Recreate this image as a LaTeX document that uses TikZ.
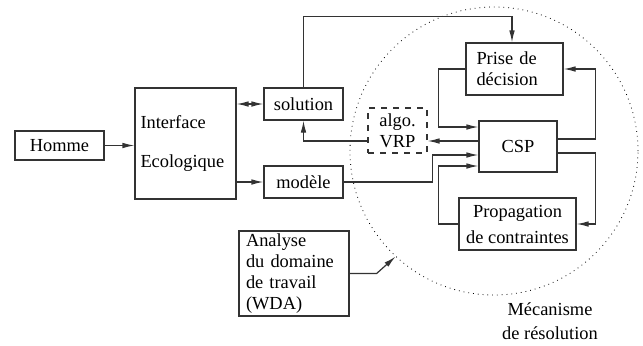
\documentclass[tikz,border=0pt]{standalone}
\usepackage{fontspec}
\setmainfont{Liberation Serif}
\usetikzlibrary{arrows.meta, positioning, calc}

\begin{document}
\begin{tikzpicture}[x=0.5pt, y=-0.5pt, font=\fontsize{9.2}{10.5}\selectfont,
    >={Latex[length=6pt,width=2.8pt]},
    box/.style={draw=black!80, line width=0.6pt, rectangle, inner sep=0pt},
    link/.style={draw=black!80, line width=0.6pt}]
    \useasboundingbox (0,0) rectangle (643,345);

    % resolution part
    \node[draw, circle, dotted, minimum size=144pt, inner sep=0pt] (meca) at (494,151) {};
    \node[align=center] (mecatxt) at (550,321) {M\'ecanisme\\[1.5pt]de r\'esolution};

    \node[box, minimum width=44.5pt, minimum height=14.5pt] (homme) at (59.5,145.5) {Homme};
    \node[box, minimum width=50.5pt, minimum height=55.5pt, text width=45pt, align=left] (interface) at (185.5,143.5) {Interface\\[9pt]Ecologique};
    \node[box, minimum width=39.5pt, minimum height=16pt] (solution) at (303.5,104) {solution};
    \node[box, minimum width=39.5pt, minimum height=16pt] (modele) at (303.5,182) {mod\`ele};
    \node[box, dashed, minimum width=29.5pt, minimum height=22.5pt, align=center] (vrp) at (397.5,130.5) {algo.\\VRP};
    \node[box, minimum width=48.5pt, minimum height=26pt, text width=38pt, align=left] (prise) at (514.5,69) {Prise de\\d\'ecision};
    \node[box, minimum width=39pt, minimum height=25.5pt] (csp) at (518,146.5) {CSP};
    \node[box, minimum width=58.5pt, minimum height=26pt, align=center] (propag) at (517.5,224) {Propagation\\[2.5pt]de contraintes};
    \node[box, minimum width=55pt, minimum height=42.5pt, text width=48pt, align=left] (analyse) at (294,273.5) {Analyse\\du domaine\\de travail\\(WDA)};

    \draw[link, ->] (homme.east) -- (interface.west |- homme.east);
    \draw[link, <->] (solution.west -| interface.east) -- (solution.west);
    \draw[link, ->] (modele.west -| interface.east) -- (modele.west);
    \draw[link, ->] (solution.north) -- ++(0,-71) -| ([xshift=-1.25pt]prise.north);
    \draw[link, ->] ([yshift=-5.25pt]vrp.west) -| (solution.south);
    \draw[link, ->] ([yshift=2.75pt]csp.west) -- ([yshift=2.75pt]csp.west -| vrp.east);
    \draw[link, ->] (prise.west) -- ++(-27,0) |- ([yshift=9.75pt]csp.west);
    \draw[link, ->] ([yshift=3.75pt]csp.east) -- ++(38,0) |- (prise.east);
    \draw[link, ->] (modele.east) -- ++(89,0) |- ([yshift=-4.25pt]csp.west);
    \draw[link, ->] ([yshift=-3.25pt]csp.east) -- ++(38,0) |- (propag.east);
    \draw[link, ->] (propag.west) -- ++(-20,0) |- ([yshift=-9.75pt]csp.west);
    \draw[link, ->] (analyse.east) -- ++(27,0) -- (meca.227);
\end{tikzpicture}
\end{document}
